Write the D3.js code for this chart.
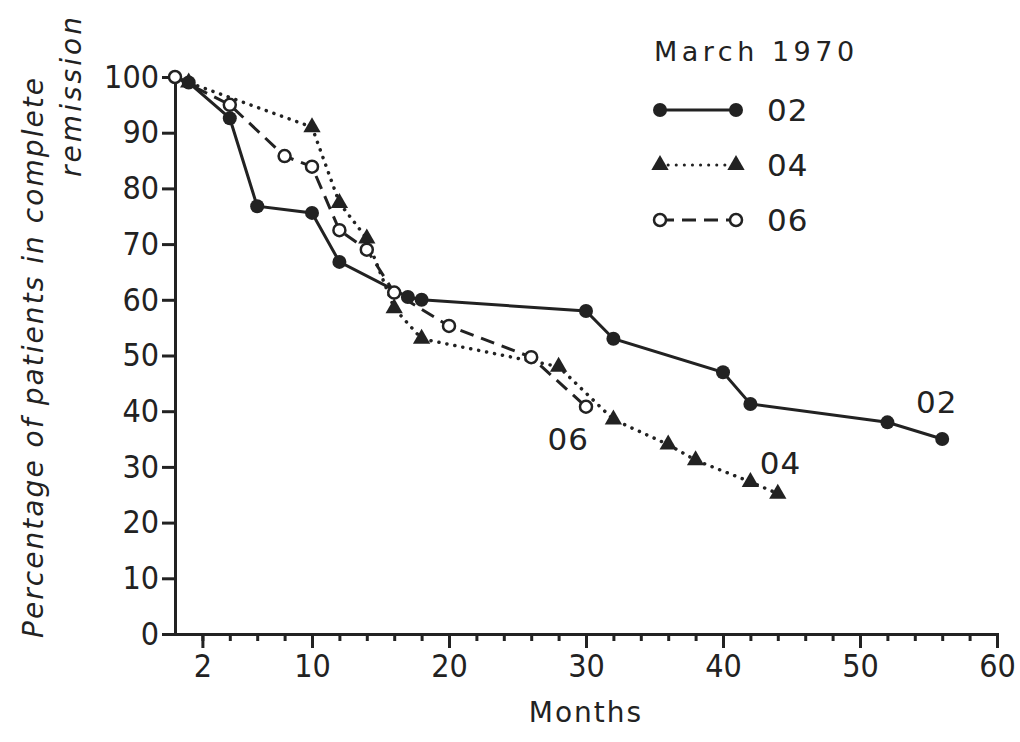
<!DOCTYPE html>
<head>
<meta charset="utf-8">
<style>
body { margin: 0; background: #fff; }
text { fill: #222; font-family: "DejaVu Sans", sans-serif; }
.axis path, .axis line { stroke: #222; stroke-width: 3px; }
.axis text { font-size: 32px; fill: #222; font-family: "DejaVu Sans Condensed", "DejaVu Sans", sans-serif; }
</style>
</head>
<body>
<script src="https://cdn.jsdelivr.net/npm/d3@7"></script>
<script>

// months and percentages
var months02 = [0, 1, 4, 6, 10, 12, 17, 18, 30, 32, 40, 42, 52, 56];
var values02 = [100, 99, 92.6, 76.8, 75.6, 66.8, 60.5, 60, 58, 53, 47, 41.3, 38, 35];

var months04 = [0, 1, 10, 12, 14, 16, 18, 28, 32, 36, 38, 42, 44];
var values04 = [100, 99, 91, 77.4, 71, 58.5, 53, 48, 38.5, 34, 31.2, 27.3, 25.2];

var months06 = [0, 4, 8, 10, 12, 14, 16, 20, 26, 30];
var values06 = [100, 95, 85.8, 83.9, 72.5, 69, 61.3, 55.3, 49.7, 40.8];

var xMajor = [2, 10, 20, 30, 40, 50, 60];
var yTicks = [0, 10, 20, 30, 40, 50, 60, 70, 80, 90, 100];
var seriesNames = ["02", "04", "06"];

var width = 1020,
    height = 742;

var x = d3.scaleLinear().domain([0, 60]).range([175, 997]);
var y = d3.scaleLinear().domain([0, 100]).range([634, 77]);

var svg = d3.select("body").append("svg")
    .attr("width", width)
    .attr("height", height);

function zip(ms, vs) {
  return ms.map(function(m, i) { return {m: m, v: vs[i]}; });
}

var series = [
  {name: seriesNames[0], pts: zip(months02, values02), dash: null, mark: "dot"},
  {name: seriesNames[1], pts: zip(months04, values04), dash: "0.1,8", mark: "tri"},
  {name: seriesNames[2], pts: zip(months06, values06), dash: "14,8", mark: "ring"}
];

// axes
svg.append("g")
    .attr("class", "axis")
    .attr("transform", "translate(" + x(0) + ",0)")
    .call(d3.axisLeft(y).tickValues(yTicks).tickSize(13).tickSizeOuter(0).tickPadding(3));

svg.append("g")
    .attr("class", "axis")
    .attr("transform", "translate(0," + y(0) + ")")
    .call(d3.axisBottom(x).tickValues(d3.range(2, 61, 2)).tickSize(7).tickSizeOuter(0).tickFormat(""));

svg.append("g")
    .attr("class", "axis")
    .attr("transform", "translate(0," + y(0) + ")")
    .call(d3.axisBottom(x).tickValues(xMajor).tickSize(14).tickSizeOuter(0).tickPadding(6));

svg.selectAll(".axis .domain").attr("stroke-linecap", "square");

// lines
var line = d3.line()
    .x(function(d) { return x(d.m); })
    .y(function(d) { return y(d.v); });

series.forEach(function(s) {
  svg.append("path")
      .datum(s.pts)
      .attr("d", line)
      .attr("fill", "none")
      .attr("stroke", "#222")
      .attr("stroke-width", s.mark == "tri" ? 3.5 : 3)
      .attr("stroke-linecap", s.mark == "tri" ? "round" : "butt")
      .attr("stroke-dasharray", s.dash);
});

function drawMark(g, kind, px, py) {
  if (kind == "dot") {
    g.append("circle").attr("cx", px).attr("cy", py).attr("r", 7).attr("fill", "#222");
  } else if (kind == "tri") {
    g.append("path")
        .attr("transform", "translate(" + px + "," + py + ")")
        .attr("d", d3.symbol().type(d3.symbolTriangle).size(130))
        .attr("fill", "#222");
  } else {
    g.append("circle").attr("cx", px).attr("cy", py).attr("r", 6)
        .attr("fill", "#fff").attr("stroke", "#222").attr("stroke-width", 2.5);
  }
}

series.forEach(function(s) {
  var g = svg.append("g");
  s.pts.forEach(function(d) {
    if (d.m == 0) return;
    drawMark(g, s.mark, x(d.m), y(d.v));
  });
});

// starting point, ring on the axis
drawMark(svg.append("g"), "ring", x(0), y(100));

// end labels
var endLabels = [
  {t: "02", m: 55.6, v: 39.7},
  {t: "04", m: 44.2, v: 28.7},
  {t: "06", m: 28.7, v: 33}
];
svg.selectAll(".endlabel")
    .data(endLabels)
    .enter().append("text")
    .attr("class", "endlabel")
    .attr("x", function(d) { return x(d.m); })
    .attr("y", function(d) { return y(d.v); })
    .attr("text-anchor", "middle")
    .style("font-size", "31px")
    .style("letter-spacing", "1px")
    .text(function(d) { return d.t; });

// legend
var legend = svg.append("g");
legend.append("text")
    .attr("x", 654)
    .attr("y", 61)
    .style("font-size", "27px")
    .style("letter-spacing", "4.5px")
    .text("March 1970");

series.forEach(function(s, i) {
  var ly = 110 + i * 55;
  legend.append("line")
      .attr("x1", 660).attr("x2", 736)
      .attr("y1", ly).attr("y2", ly)
      .attr("stroke", "#222")
      .attr("stroke-width", 3)
      .attr("stroke-linecap", s.mark == "tri" ? "round" : "butt")
      .attr("stroke-dasharray", s.dash);
  drawMark(legend, s.mark, 660, ly);
  drawMark(legend, s.mark, 736, ly);
  legend.append("text")
      .attr("x", 767)
      .attr("y", ly + 11)
      .style("font-size", "31px")
      .style("letter-spacing", "1px")
      .text(s.name);
});

// axis titles
svg.append("text")
    .attr("x", x(30))
    .attr("y", 722)
    .attr("text-anchor", "middle")
    .style("font-size", "28px")
    .style("letter-spacing", "2px")
    .text("Months");

svg.append("text")
    .attr("transform", "translate(43,78) rotate(-90)")
    .attr("text-anchor", "end")
    .style("font-size", "28px")
    .style("font-style", "italic")
    .attr("textLength", 560)
    .attr("lengthAdjust", "spacing")
    .text("Percentage of patients in complete");

svg.append("text")
    .attr("transform", "translate(81,17) rotate(-90)")
    .attr("text-anchor", "end")
    .style("font-size", "28px")
    .style("font-style", "italic")
    .attr("textLength", 160)
    .attr("lengthAdjust", "spacing")
    .text("remission");

</script>
</body>
</html>
